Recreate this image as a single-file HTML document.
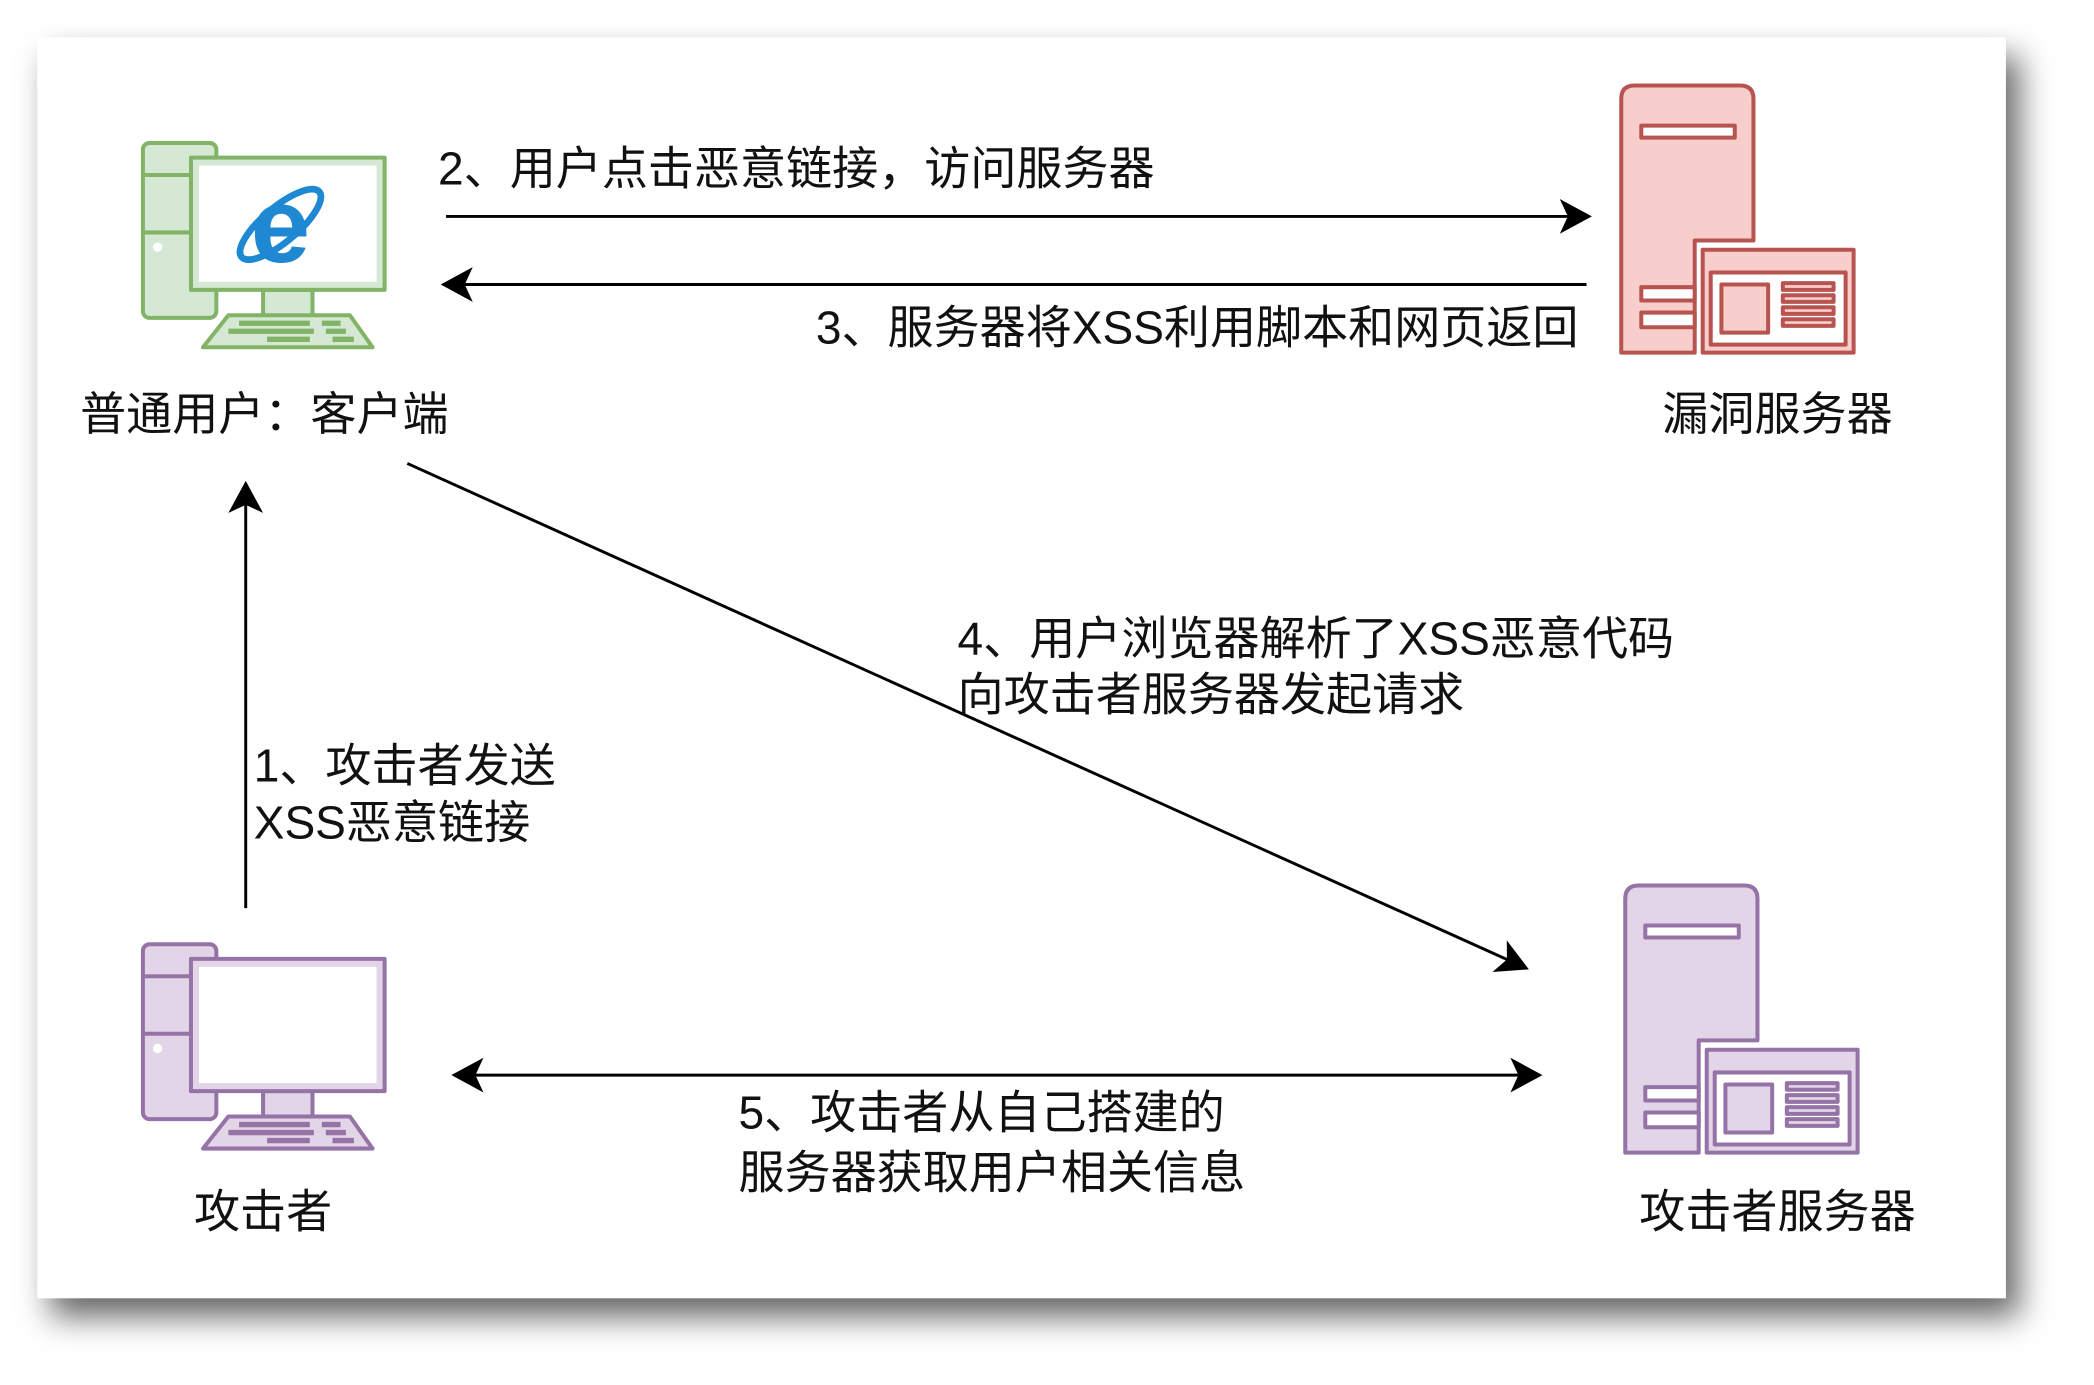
<!DOCTYPE html>
<html><head><meta charset="utf-8"><style>
html,body{margin:0;padding:0;background:#fff;}
svg{display:block;}
text{font-family:"Liberation Sans","Noto Sans CJK SC",sans-serif;fill:#111;}
</style></head><body>
<svg width="2094" height="1385" viewBox="0 0 1568 1037" xmlns="http://www.w3.org/2000/svg">
<defs>
<filter id="sh" x="-10%" y="-10%" width="130%" height="130%">
<feDropShadow dx="10" dy="14" stdDeviation="12" flood-color="#000" flood-opacity="0.6"/>
</filter>
<marker id="ah" viewBox="0 0 24 26" refX="22" refY="13" markerWidth="24" markerHeight="26" markerUnits="userSpaceOnUse" orient="auto-start-reverse">
<path d="M0,0 L24,13 L0,26 L6,13 Z" fill="#000"/>
</marker>
<g id="comp" stroke-width="3" stroke-linejoin="round">
<rect x="0" y="0" width="55" height="131" rx="5"/>
<line x1="0" y1="24" x2="55" y2="24"/>
<line x1="0" y1="67" x2="55" y2="67"/>
<rect x="90" y="110" width="37" height="20"/>
<path d="M64,129 L155,129 L172,153 L45,153 Z"/>
<rect x="36" y="11" width="145" height="99"/>
<rect x="42" y="17" width="133" height="87" fill="#fff" stroke="none"/>
<circle cx="11" cy="78" r="3.5" fill="#fff" stroke="none"/>
<g stroke-width="4">
<line x1="72" y1="135" x2="125" y2="135"/><line x1="134" y1="135" x2="148" y2="135"/>
<line x1="64" y1="141" x2="128" y2="141"/><line x1="137" y1="141" x2="152" y2="141"/>
<line x1="93" y1="147" x2="125" y2="147"/><line x1="142" y1="147" x2="158" y2="147"/>
</g>
</g>
<g id="srv" stroke-width="3" stroke-linejoin="round">
<path d="M0,200 L0,10 Q0,0 10,0 L89,0 Q99,0 99,10 L99,116 L55,116 L55,200 Z"/>
<rect x="15" y="30" width="70" height="9" fill="#fff"/>
<rect x="15" y="151" width="40" height="10" fill="#fff"/>
<rect x="15" y="170" width="40" height="11" fill="#fff"/>
<rect x="61" y="123" width="113" height="77"/>
<rect x="67" y="140" width="101" height="54" fill="#fff"/>
<rect x="75" y="149" width="35" height="36"/>
<rect x="121" y="148" width="38" height="5"/>
<rect x="121" y="157" width="38" height="5"/>
<rect x="121" y="166" width="38" height="5"/>
<rect x="121" y="175" width="38" height="5"/>
</g>
</defs>
<rect x="28" y="28" width="1474" height="944" fill="#fff" filter="url(#sh)"/>

<use href="#comp" x="107" y="107" fill="#d5e8d4" stroke="#82b366"/>
<g>
<ellipse cx="210" cy="168" rx="38" ry="13" transform="rotate(-40 210 168)" fill="none" stroke="#1e88d2" stroke-width="5"/>
<text x="210" y="196" font-size="80" font-weight="bold" text-anchor="middle" style="fill:#1e88d2">e</text>
</g>
<use href="#comp" x="107" y="707" fill="#e1d5e7" stroke="#9673a6"/>
<use href="#srv" x="1214" y="64" fill="#f8cecc" stroke="#b85450"/>
<use href="#srv" x="1217" y="663" fill="#e1d5e7" stroke="#9673a6"/>

<g stroke="#000" stroke-width="2.2" fill="none">
<line x1="334" y1="162" x2="1190" y2="162" marker-end="url(#ah)"/>
<line x1="1188" y1="213" x2="332" y2="213" marker-end="url(#ah)"/>
<line x1="184" y1="680" x2="184" y2="362" marker-end="url(#ah)"/>
<line x1="305" y1="347" x2="1143" y2="725" marker-end="url(#ah)"/>
<line x1="340" y1="805" x2="1153" y2="805" marker-start="url(#ah)" marker-end="url(#ah)"/>
</g>

<g font-size="34.5" dominant-baseline="central">
<text x="328" y="126">2、用户点击恶意链接，访问服务器</text>
<text x="1182" y="245" text-anchor="end">3、服务器将XSS利用脚本和网页返回</text>
<text x="60" y="310">普通用户：客户端</text>
<text x="1331" y="310" text-anchor="middle">漏洞服务器</text>
<text x="190" y="573">1、攻击者发送</text>
<text x="190" y="616">XSS恶意链接</text>
<text x="717" y="478">4、用户浏览器解析了XSS恶意代码</text>
<text x="717" y="520">向攻击者服务器发起请求</text>
<text x="553" y="833">5、攻击者从自己搭建的</text>
<text x="553" y="878">服务器获取用户相关信息</text>
<text x="197" y="907" text-anchor="middle">攻击者</text>
<text x="1331" y="907" text-anchor="middle">攻击者服务器</text>
</g>
</svg>
</body></html>
